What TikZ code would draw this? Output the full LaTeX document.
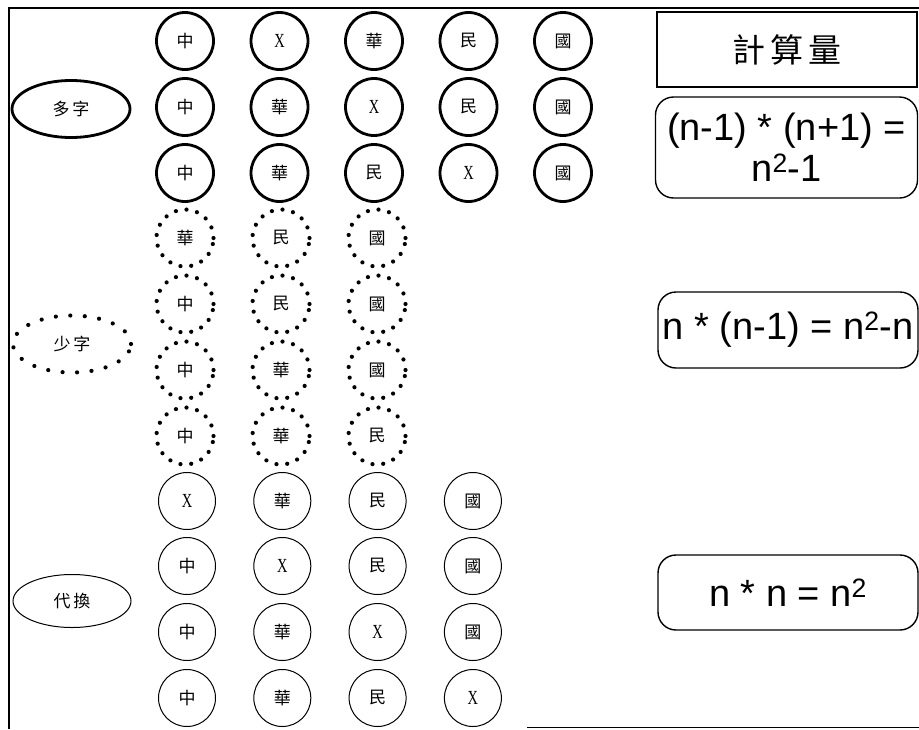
\documentclass[tikz,border=0pt]{standalone}
\usepackage{fontspec}
\usepackage{graphicx}
\setmainfont{Liberation Sans}
\newfontfamily\cjk{Noto Sans CJK TC}
\newfontfamily\serifx{Liberation Serif}
\usetikzlibrary{shapes.geometric}
\newcommand\xx{\scalebox{0.72}[1]{\serifx\fontsize{20}{20}\selectfont X}}
\tikzset{
  lab/.style={font=\cjk\fontsize{17}{17}\selectfont, inner sep=0pt},
  cbase/.style={circle, minimum size=57pt, inner sep=0pt, lab},
  thickc/.style={cbase, draw, line width=2.8pt},
  dotc/.style={cbase, draw, line width=4.2pt, dash pattern=on 0pt off 10.8pt, line cap=round},
  thinc/.style={cbase, draw, line width=1pt},
  ell/.style={ellipse, minimum width=118pt, minimum height=57pt, inner sep=0pt, font=\cjk\fontsize{17}{17}\selectfont},
  formula/.style={draw, line width=1.4pt, rounded corners=18pt, inner sep=0pt, align=center, font=\fontsize{38}{41}\selectfont},
}
\begin{document}
\begin{tikzpicture}[x=1pt,y=-1pt]
\useasboundingbox (0,0) rectangle (919,729);
% frame
\draw[line width=1.4pt] (9,729) -- (9,8) -- (919,8);
\draw[line width=1.2pt] (527,727.5) -- (919,727.5);

% group labels
\node[ell, draw, line width=2.8pt] (many) at (71,109) {多\,字};
\node[ell, draw, line width=4.2pt, dash pattern=on 0pt off 14.5pt, line cap=round] (few) at (72,344) {少\,字};
\node[ell, draw, line width=1pt, minimum height=53pt] (sub) at (72,601) {代\,換};

% many characters
\foreach \t [count=\i] in {中,\xx,華,民,國}
  \node[thickc] (m1-\i) at ({185+94.5*(\i-1)},41) {\t};
\foreach \t [count=\i] in {中,華,\xx,民,國}
  \node[thickc] (m2-\i) at ({185+94.5*(\i-1)},107) {\t};
\foreach \t [count=\i] in {中,華,民,\xx,國}
  \node[thickc] (m3-\i) at ({185+94.5*(\i-1)},173) {\t};

% few characters
\foreach \t [count=\i] in {華,民,國}
  \node[dotc] (f1-\i) at ({185+96*(\i-1)},238) {\t};
\foreach \t [count=\i] in {中,民,國}
  \node[dotc] (f2-\i) at ({185+96*(\i-1)},304) {\t};
\foreach \t [count=\i] in {中,華,國}
  \node[dotc] (f3-\i) at ({185+96*(\i-1)},370) {\t};
\foreach \t [count=\i] in {中,華,民}
  \node[dotc] (f4-\i) at ({185+96*(\i-1)},436) {\t};

% substitution
\foreach \t [count=\i] in {\xx,華,民,國}
  \node[thinc] (s1-\i) at ({187+95.3*(\i-1)},501) {\t};
\foreach \t [count=\i] in {中,\xx,民,國}
  \node[thinc] (s2-\i) at ({187+95.3*(\i-1)},566) {\t};
\foreach \t [count=\i] in {中,華,\xx,國}
  \node[thinc] (s3-\i) at ({187+95.3*(\i-1)},632) {\t};
\foreach \t [count=\i] in {中,華,民,\xx}
  \node[thinc] (s4-\i) at ({187+95.3*(\i-1)},698) {\t};

% right column
\node[draw, line width=1.3pt, minimum width=260pt, minimum height=75pt, inner sep=0pt,
      font=\cjk\fontsize{33}{33}\selectfont] (title) at (787,49.5) {計\,算\,量};
\node[formula, minimum width=262pt, minimum height=101pt] (fmany) at (786.5,147.5)
  {(n-1) * (n+1) =\\ n\textsuperscript{2}-1};
\node[formula, minimum width=260pt, minimum height=76pt] (ffew) at (788,330)
  {n * (n-1) = n\textsuperscript{2}-n};
\node[formula, minimum width=260pt, minimum height=75pt] (fsub) at (788,592.5)
  {n * n = n\textsuperscript{2}};
\end{tikzpicture}
\end{document}
